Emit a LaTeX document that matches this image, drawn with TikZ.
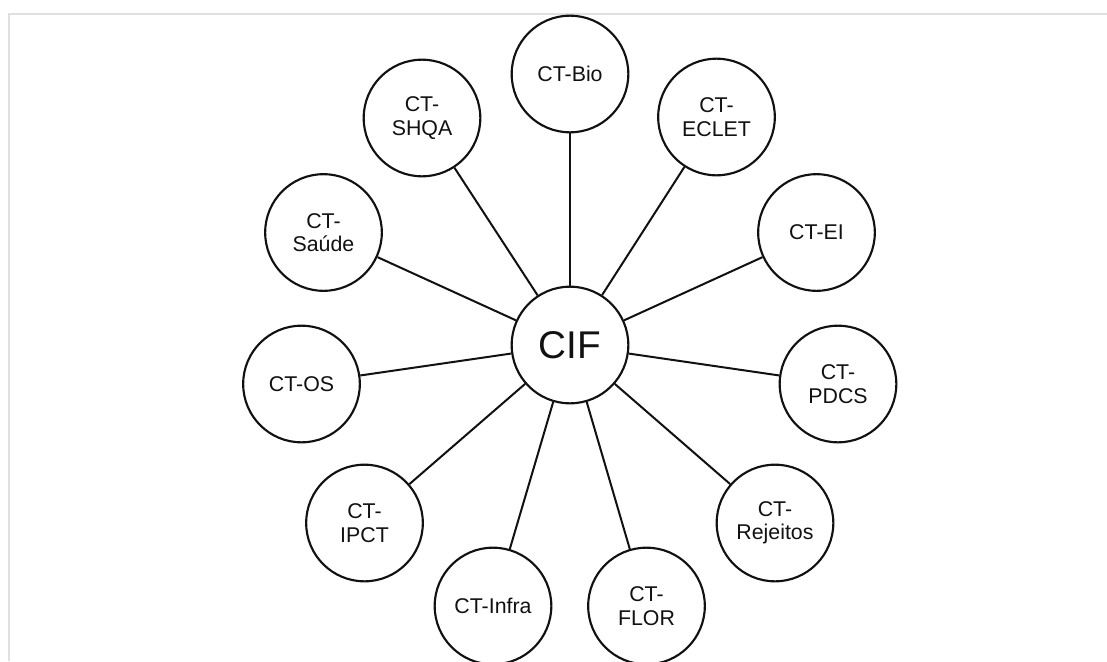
\documentclass[tikz,border=0pt]{standalone}
\usepackage{fontspec}
\setmainfont{Liberation Sans}
\definecolor{framegray}{HTML}{E0E0E0}
\definecolor{inkc}{HTML}{111111}
\begin{document}
\begin{tikzpicture}[x=0.75pt,y=-0.75pt,
  ct/.style={draw=inkc,line width=1.6pt,circle,minimum size=87.5pt,inner sep=0pt,
    align=center,text=inkc,font=\fontsize{16}{17.5}\selectfont,fill=white},
  hub/.style={ct,font=\fontsize{29}{32}\selectfont},
  spoke/.style={draw=inkc,line width=1.5pt}]
\useasboundingbox (0,0) rectangle (1107,661);
\fill[white] (0,0) rectangle (1107,661);
\draw[framegray,line width=0.9pt] (9,661) -- (9,14) -- (1107,14);
\node[hub] (cif) at (570,345) {CIF};
\node[ct] (bio) at (570,74) {CT-Bio};
\node[ct] (eclet) at (716.5,117) {CT-\\ECLET};
\node[ct] (ei) at (816.5,232.5) {CT-EI};
\node[ct] (pdcs) at (838,384) {CT-\\PDCS};
\node[ct] (rej) at (775,523) {CT-\\Rejeitos};
\node[ct] (flor) at (646.5,606) {CT-\\FLOR};
\node[ct] (infra) at (493,606) {CT-Infra};
\node[ct] (ipct) at (364.5,523) {CT-\\IPCT};
\node[ct] (os) at (301.5,384) {CT-OS};
\node[ct] (saude) at (323.5,232.5) {CT-\\Saúde};
\node[ct] (shqa) at (422,118) {CT-\\SHQA};
\foreach \n in {bio,eclet,ei,pdcs,rej,flor,infra,ipct,os,saude,shqa}
  \draw[spoke] (cif) -- (\n);
\end{tikzpicture}
\end{document}
